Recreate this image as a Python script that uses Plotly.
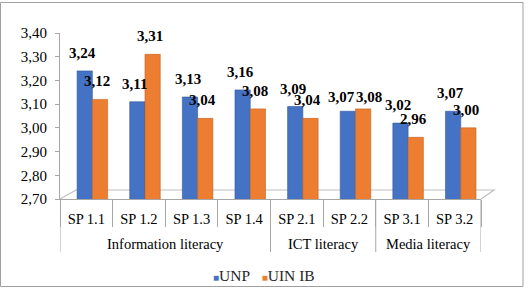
import plotly.graph_objects as go

groups = ["Information literacy"] * 4 + ["ICT literacy"] * 2 + ["Media literacy"] * 2
subcats = ["SP 1.1", "SP 1.2", "SP 1.3", "SP 1.4", "SP 2.1", "SP 2.2", "SP 3.1", "SP 3.2"]
unp = [3.24, 3.11, 3.13, 3.16, 3.09, 3.07, 3.02, 3.07]
uin = [3.12, 3.31, 3.04, 3.08, 3.04, 3.08, 2.96, 3.00]
yticks = [2.70, 2.80, 2.90, 3.00, 3.10, 3.20, 3.30, 3.40]
series_names = ["UNP", "UIN IB"]

W, H = 528, 288
L, R, T, B = 60, 47, 33, 89
pw, ph = W - L - R, H - T - B
FONT = "'Times New Roman', 'Liberation Serif', 'DejaVu Serif', serif"
BLUE, ORANGE = "#4472C4", "#ED7D31"
GRID = "#A6A6A6"

fig = go.Figure()
fig.add_trace(go.Bar(x=subcats, y=unp, name=series_names[0], marker_color=BLUE,
                     marker_line=dict(color="#34589A", width=0.6),
                     width=0.29, offset=-0.175, base=0))
fig.add_trace(go.Bar(x=subcats, y=uin, name=series_names[1], marker_color=ORANGE,
                     marker_line=dict(color="#C0621F", width=0.6),
                     width=0.29, offset=0.115, base=0))

def fmt(v):
    return f"{v:.2f}".replace(".", ",")

# label placement (pixel nudges); one pair adjusted as in the original to avoid overlap
default_nudge = {"unp": (-4, 18), "uin": (11, 18)}
special_nudge = {5: {"unp": (-7.5, 14), "uin": (20, 12)}}

ann = []
for key, vals in (("unp", unp), ("uin", uin)):
    for i, v in enumerate(vals):
        dx, dy = special_nudge.get(i, default_nudge)[key]
        ann.append(dict(x=i, y=v, xref="x", yref="y", text="<b>" + fmt(v) + "</b>", showarrow=False,
                        xshift=dx, yshift=dy, font=dict(family=FONT, size=15, color="black"),
                        yanchor="middle"))

px = lambda x: (x - L) / pw
py = lambda y: (H - B - y) / ph

# group labels and group separators
group_names = list(dict.fromkeys(groups))
bounds = [-0.5]
for g in group_names:
    idx = [i for i, gg in enumerate(groups) if gg == g]
    ann.append(dict(x=sum(idx) / len(idx), y=py(244), xref="x", yref="paper", text=g,
                    showarrow=False, yanchor="middle",
                    font=dict(family=FONT, size=14.5, color="black")))
    bounds.append(idx[-1] + 0.5)

# legend drawn as text
ann.append(dict(xref="paper", yref="paper", x=px(264), y=py(275), xanchor="center", yanchor="middle",
                showarrow=False, font=dict(family=FONT, size=15.5, color="#262626"),
                text=(f"<span style='color:{BLUE};font-size:10px'>■</span>{series_names[0]}"
                      f"&nbsp;&nbsp;&nbsp;<span style='color:{ORANGE};font-size:10px'>■</span>{series_names[1]}")))

shapes = [
    dict(type="path", xref="paper", yref="paper",
         path=f"M {px(60)} {py(199)} L {px(76)} {py(190)} L {px(494)} {py(190)} L {px(481)} {py(199)}",
         line=dict(color="#BFBFBF", width=1.2), layer="below"),
    dict(type="rect", xref="paper", yref="paper", x0=px(0.5), x1=px(523), y0=py(286.5), y1=py(2.5),
         line=dict(color="#A0A0A0", width=1)),
]
for b in bounds:
    shapes.append(dict(type="line", xref="x", yref="paper", x0=b, x1=b,
                       y0=0, y1=py(252), line=dict(color=GRID, width=1)))

fig.update_layout(
    width=W, height=H, margin=dict(l=L, r=R, t=T, b=B, autoexpand=False),
    paper_bgcolor="white", plot_bgcolor="white",
    separators=",.",
    barmode="group",
    showlegend=False,
    font=dict(family=FONT, size=14.5, color="black"),
    annotations=ann,
    shapes=shapes,
    xaxis=dict(type="category", showline=True, linecolor=GRID, linewidth=1,
               ticks="outside", tickson="boundaries", ticklen=27, tickcolor=GRID,
               ticklabelstandoff=7, automargin=False, range=[-0.5, len(subcats) - 0.5],
               tickfont=dict(family=FONT, size=14.5, color="black"), showgrid=False),
    yaxis=dict(range=[2.70, 3.40], tickvals=yticks, tickformat=".2f", showline=True,
               linecolor=GRID, linewidth=1, ticks="outside", ticklen=4, tickcolor=GRID,
               showgrid=False, zeroline=False, automargin=False, ticklabelstandoff=5,
               tickfont=dict(family=FONT, size=15, color="black")),
)

fig.write_html("out.html")
